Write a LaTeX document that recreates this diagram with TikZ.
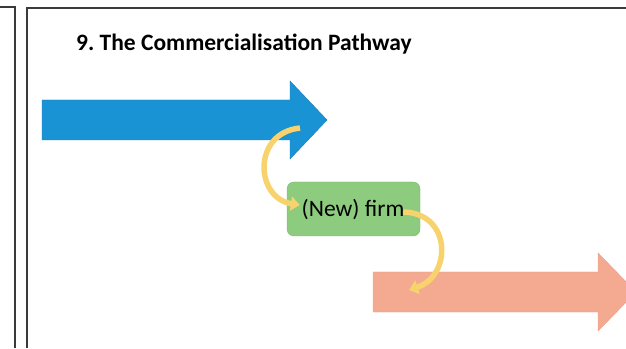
\documentclass[tikz,border=0pt]{standalone}
\usepackage{fontspec}
\setmainfont{Carlito}
\usepackage{tikz}
\usetikzlibrary{arrows.meta}
\definecolor{pathblue}{HTML}{1A93D5}
\definecolor{pathblueline}{HTML}{1B78B6}
\definecolor{firmgreen}{HTML}{8DCB7E}
\definecolor{firmgreenline}{HTML}{78BA69}
\definecolor{salmon}{HTML}{F3AA91}
\definecolor{salmonline}{HTML}{EE9C82}
\definecolor{curvey}{HTML}{F8D26C}
\definecolor{framegray}{HTML}{3A3A3A}

\begin{document}
\begin{tikzpicture}[x=1pt,y=1pt,
    frame/.style={framegray,line width=1.3pt},
    firmbox/.style={draw=firmgreenline,fill=firmgreen,rounded corners=7pt,
        minimum width=133pt,minimum height=54pt,inner sep=0pt},
    curvearrow/.style={curvey,line width=5.5pt,
        -{Triangle[width=14pt,length=9pt]}}]
    \useasboundingbox (0,0) rectangle (626,348);

    % frames
    \draw [frame] (0,341) to (15,341) to (15,0);
    \draw [frame] (27,0) to (27,340) to (630,340);

    % title
    \node at (76,297) [anchor=base west,inner sep=0pt]
        {\fontsize{23.5}{27}\selectfont\bfseries 9.\ The Commercialisation Pathway};

    % blue arrow
    \draw [pathblueline,fill=pathblue] (42,248) to (290,248) to (290,267)
        to (327,228) to (290,189) to (290,208) to (42,208) -- cycle;
    \coordinate (blueend) at (300,220);

    % salmon arrow
    \draw [salmonline,fill=salmon] (373,76) to (598,76) to (598,95)
        to (636,56) to (598,17) to (598,36) to (373,36) -- cycle;
    \coordinate (salmonend) at (409,58);

    % firm
    \node (firm) at (353.5,139) [firmbox] {};
    \node (firmtext) at (353,131) [anchor=base,inner sep=0pt]
        {\fontsize{23.5}{27}\selectfont (New) firm};

    % curved arrows
    \draw [curvearrow] (blueend) .. controls (252,215) and (255,150)
        .. ([shift={(13,4)}]firm.west);
    \draw [curvearrow] ([shift={(-17,-3)}]firm.east) .. controls (452,135)
        and (452,72) .. (salmonend);
\end{tikzpicture}
\end{document}
